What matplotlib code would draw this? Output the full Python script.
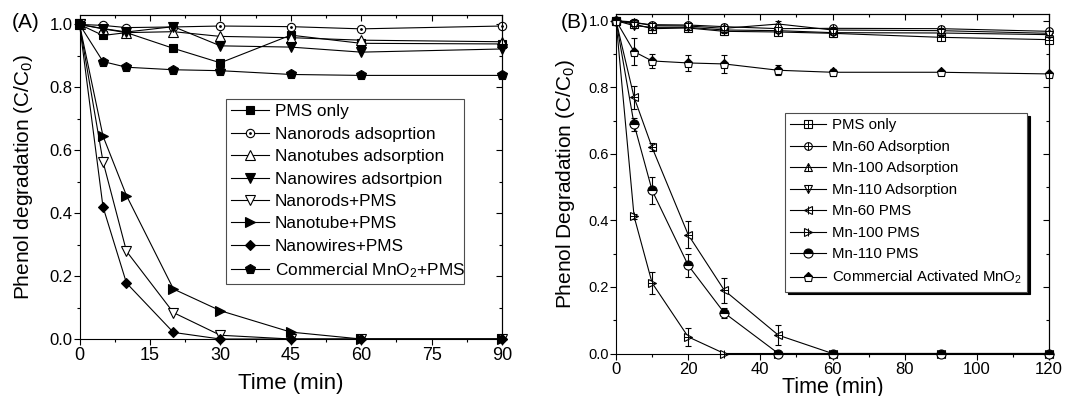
import numpy as np
import matplotlib
matplotlib.use('Agg')
import matplotlib.pyplot as plt
from matplotlib.patches import Rectangle
from matplotlib.ticker import MultipleLocator, FormatStrFormatter

plt.rcParams['font.family'] = ['Liberation Sans', 'DejaVu Sans']
plt.rcParams['mathtext.default'] = 'regular'

# (A) data
time_a = [0, 5, 10, 20, 30, 45, 60, 90]
pms_only_a = [1.0, 0.965, 0.974, 0.924, 0.878, 0.966, 0.94, 0.938]
rods_ads = [1.0, 0.997, 0.99, 0.992, 0.995, 0.993, 0.986, 0.995]
tubes_ads = [1.0, 0.986, 0.974, 0.977, 0.962, 0.958, 0.95, 0.945]
wires_ads = [1.0, 0.987, 0.976, 0.993, 0.932, 0.928, 0.912, 0.922]
rods_pms = [1.0, 0.564, 0.279, 0.084, 0.012, 0.0, 0.0, 0.0]
tube_pms = [1.0, 0.645, 0.456, 0.159, 0.090, 0.022, 0.0, 0.0]
wires_pms = [1.0, 0.42, 0.178, 0.021, 0.0, 0.0, 0.0, 0.0]
comm_pms_a = [1.0, 0.882, 0.864, 0.856, 0.853, 0.841, 0.838, 0.838]
labels_a = ['PMS only', 'Nanorods adsoprtion', 'Nanotubes adsorption',
            'Nanowires adsortpion', 'Nanorods+PMS', 'Nanotube+PMS',
            'Nanowires+PMS', 'Commercial MnO$_2$+PMS']

# (B) data
time_b = [0, 5, 10, 20, 30, 45, 60, 90, 120]
pms_only_b = [1.0, 0.99, 0.976, 0.978, 0.968, 0.966, 0.962, 0.95, 0.943]
mn60_ads = [1.0, 0.993, 0.988, 0.987, 0.982, 0.976, 0.977, 0.976, 0.968]
mn100_ads = [1.0, 0.996, 0.985, 0.984, 0.977, 0.99, 0.972, 0.97, 0.962]
mn110_ads = [1.0, 0.985, 0.98, 0.98, 0.972, 0.97, 0.964, 0.963, 0.958]
mn60_pms = [1.0, 0.77, 0.619, 0.357, 0.19, 0.055, 0.0, 0.0, 0.0]
mn100_pms = [1.0, 0.412, 0.212, 0.05, 0.0, 0.0, 0.0, 0.0, 0.0]
mn110_pms = [1.0, 0.689, 0.49, 0.265, 0.122, 0.0, 0.0, 0.0, 0.0]
comm_b = [1.0, 0.907, 0.879, 0.873, 0.870, 0.851, 0.845, 0.845, 0.84]
# error bars
pms_only_b_err = [0, 0.01, 0.01, 0.008, 0.01, 0.01, 0.01, 0.008, 0.008]
ads_err = [0, 0.008, 0.008, 0.008, 0.008, 0.008, 0.008, 0.008, 0.006]
mn60_pms_err = [0, 0.035, 0.012, 0.04, 0.038, 0.03, 0, 0, 0]
mn100_pms_err = [0, 0.008, 0.033, 0.027, 0, 0, 0, 0, 0]
mn110_pms_err = [0, 0.02, 0.04, 0.035, 0.015, 0, 0, 0, 0]
comm_b_err = [0, 0.04, 0.02, 0.025, 0.027, 0.015, 0.01, 0.008, 0]
labels_b = ['PMS only', 'Mn-60 Adsorption', 'Mn-100 Adsorption',
            'Mn-110 Adsorption', 'Mn-60 PMS', 'Mn-100 PMS', 'Mn-110 PMS',
            'Commercial Activated MnO$_2$']


def style_axes(ax, xmajor, xminor, xfs, yfs):
    """
    Origin style ticks: out on bottom/left, in on top/right
    """
    ax.xaxis.set_major_locator(MultipleLocator(xmajor))
    ax.xaxis.set_minor_locator(MultipleLocator(xminor))
    ax.yaxis.set_major_locator(MultipleLocator(0.2))
    ax.yaxis.set_minor_locator(MultipleLocator(0.1))
    ax.yaxis.set_major_formatter(FormatStrFormatter('%.1f'))
    ax.tick_params(which='major', direction='out', length=4, width=0.8)
    ax.tick_params(which='minor', direction='out', length=2.5, width=0.8)
    ax.tick_params(axis='x', labelsize=xfs, pad=2)
    ax.tick_params(axis='y', labelsize=yfs, pad=1)
    for sp in ax.spines.values():
        sp.set_linewidth(0.8)
    top = ax.secondary_xaxis('top')
    top.xaxis.set_major_locator(MultipleLocator(xmajor))
    top.xaxis.set_minor_locator(MultipleLocator(xminor))
    top.tick_params(which='both', direction='in', labeltop=False, width=0.8)
    top.tick_params(which='major', length=4)
    top.tick_params(which='minor', length=2.5)
    right = ax.secondary_yaxis('right')
    right.yaxis.set_major_locator(MultipleLocator(0.2))
    right.yaxis.set_minor_locator(MultipleLocator(0.1))
    right.tick_params(which='both', direction='in', labelright=False, width=0.8)
    right.tick_params(which='major', length=4)
    right.tick_params(which='minor', length=2.5)


fig = plt.figure(figsize=(10.88, 3.96), dpi=100)

# ---------------- panel A ----------------
ax1 = fig.add_axes([0.0731, 0.1439, 0.3883, 0.8182])
series_a = [pms_only_a, rods_ads, tubes_ads, wires_ads,
            rods_pms, tube_pms, wires_pms, comm_pms_a]
markers_a = ['s', 'o', '^', 'v', 'v', '>', 'D', 'p']
faces_a = ['k', 'w', 'w', 'k', 'w', 'k', 'k', 'k']
sizes_a = [6, 6, 6.5, 6.5, 6.5, 6.5, 5.5, 7]
handles_a = []
for y, m, fc, ms in zip(series_a, markers_a, faces_a, sizes_a):
    ln, = ax1.plot(time_a, y, color='k', lw=0.8, marker=m, ms=ms,
                   mfc=fc, mec='k', mew=0.8, clip_on=False)
    handles_a.append(ln)
# dot in the open circles
dot, = ax1.plot(time_a, rods_ads, ls='none', marker='.', ms=2, color='k',
                clip_on=False)
handles_a[1] = (handles_a[1], dot)

ax1.set_xlim(0, 90)
ax1.set_ylim(0, 1.03)
style_axes(ax1, 15, 7.5, 13, 12)
ax1.set_xlabel('Time (min)', fontsize=16)
ax1.set_ylabel('Phenol degradation (C/C$_0$)', fontsize=15)
ax1.xaxis.set_label_coords(0.5, -0.105)
ax1.yaxis.set_label_coords(-0.105, 0.5)
# legend box drawn as a fixed frame, entries on top of it
ax1.add_patch(Rectangle((0.346, 0.170), 0.564, 0.571, transform=ax1.transAxes,
                        facecolor='w', edgecolor='0.3', lw=0.8, zorder=4.5))
leg1 = ax1.legend(handles_a, labels_a, loc='upper left',
                  bbox_to_anchor=(0.346, 0.741), fontsize=12.4,
                  frameon=False, borderpad=0.3, labelspacing=0.43,
                  handlelength=2.2, handletextpad=0.35, borderaxespad=0)

# ---------------- panel B ----------------
ax2 = fig.add_axes([0.5662, 0.1073, 0.3980, 0.8573])
series_b = [pms_only_b, mn60_ads, mn100_ads, mn110_ads,
            mn60_pms, mn100_pms, mn110_pms, comm_b]
errors_b = [pms_only_b_err, ads_err, ads_err, ads_err,
            mn60_pms_err, mn100_pms_err, mn110_pms_err, comm_b_err]
markers_b = ['s', 'o', '^', 'v', '<', '>', 'o', 'p']
plus_b = [True, True, True, True, True, True, False, False]
handles_b = []
for y, e, m, plus in zip(series_b, errors_b, markers_b, plus_b):
    ax2.errorbar(time_b, y, yerr=e, fmt='none', ecolor='k', elinewidth=0.8,
                 capsize=2.5, capthick=0.8, clip_on=False)
    if plus:
        ln, = ax2.plot(time_b, y, color='k', lw=0.8, marker=m, ms=5.5,
                       mfc='w', mec='k', mew=0.8, clip_on=False)
        pl, = ax2.plot(time_b, y, ls='none', marker='+', ms=5.5, mew=0.7,
                       color='k', clip_on=False)
        handles_b.append((ln, pl))
    else:
        ln, = ax2.plot(time_b, y, color='k', lw=0.8, marker=m, ms=6.5,
                       fillstyle='top', mfc='k', mfcalt='w', mec='k',
                       mew=0.8, clip_on=False)
        handles_b.append(ln)

ax2.set_xlim(0, 120)
ax2.set_ylim(0, 1.02)
style_axes(ax2, 20, 10, 12, 10.5)
ax2.set_xlabel('Time (min)', fontsize=15.5)
ax2.set_ylabel('Phenol Degradation (C/C$_0$)', fontsize=15)
ax2.xaxis.set_label_coords(0.5, -0.068)
ax2.yaxis.set_label_coords(-0.09, 0.5)
leg2 = ax2.legend(handles_b, labels_b, loc='upper left',
                  bbox_to_anchor=(0.39, 0.708), fontsize=10.8,
                  frameon=True, fancybox=False, edgecolor='0.3',
                  shadow={'color': 'black', 'alpha': 1},
                  borderpad=0.35, labelspacing=0.5, handlelength=2.4,
                  handletextpad=0.4, borderaxespad=0)
leg2.get_frame().set_linewidth(0.8)

# panel labels
fig.text(12 / 1088, 1 - 28 / 396, '(A)', fontsize=15, va='baseline')
fig.text(561 / 1088, 1 - 28 / 396, '(B)', fontsize=15, va='baseline')

fig.savefig('out.png', dpi=100)
